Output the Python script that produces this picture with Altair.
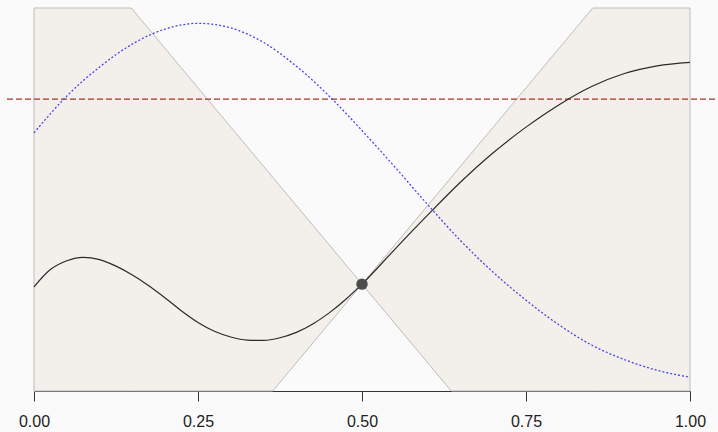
import altair as alt
import pandas as pd

# ---- data ----
black_x = [0.0, 0.025, 0.05, 0.075, 0.10, 0.125, 0.15, 0.175, 0.20, 0.225, 0.25, 0.275, 0.30,
           0.325, 0.35, 0.375, 0.40, 0.425, 0.45, 0.475, 0.50, 0.55, 0.60, 0.65, 0.70, 0.75,
           0.80, 0.85, 0.90, 0.95, 1.0]
black_y = [0.272, 0.317, 0.340, 0.349, 0.343, 0.326, 0.303, 0.275, 0.243, 0.209, 0.179, 0.156,
           0.141, 0.133, 0.132, 0.139, 0.153, 0.175, 0.204, 0.239, 0.279, 0.370, 0.459, 0.545,
           0.622, 0.689, 0.747, 0.795, 0.829, 0.849, 0.858]

blue_x = [0.0, 0.05, 0.10, 0.15, 0.20, 0.25, 0.30, 0.35, 0.40, 0.45, 0.50, 0.55, 0.60, 0.65,
          0.70, 0.75, 0.80, 0.85, 0.90, 0.95, 1.0]
blue_y = [0.674, 0.770, 0.846, 0.906, 0.945, 0.960, 0.948, 0.910, 0.848, 0.770, 0.680, 0.585,
          0.487, 0.393, 0.310, 0.237, 0.173, 0.120, 0.082, 0.054, 0.036]

ref_level = [0.762]
center_x = [0.5]
center_y = [0.279]
cone_slope = 2.05
y_lo, y_hi = 0.0, 1.0
x_ticks = [0.0, 0.25, 0.5, 0.75, 1.0]

# ---- build tables ----
black_df = pd.DataFrame({"x": black_x, "y": black_y})
blue_df = pd.DataFrame({"x": blue_x, "y": blue_y})
ref_df = pd.DataFrame({"y": ref_level})
pt_df = pd.DataFrame({"x": center_x, "y": center_y})

x0, y0, L = center_x[0], center_y[0], cone_slope
def wedge(xs, side):
    rows = []
    for x in sorted(xs):
        a = y0 + L * (x - x0)
        b = y0 - L * (x - x0)
        lo, hi = (max(y_lo, a), min(y_hi, b)) if side == "left" else (max(y_lo, b), min(y_hi, a))
        rows.append({"x": x, "lo": lo, "hi": hi, "side": side})
    return rows

left_pts = [0.0, x0 - (y_hi - y0) / L, x0 - (y0 - y_lo) / L, x0]
right_pts = [x0, x0 + (y0 - y_lo) / L, x0 + (y_hi - y0) / L, 1.0]
wedge_df = pd.DataFrame(wedge(left_pts, "left") + wedge(right_pts, "right"))

xscale = alt.Scale(domain=[0, 1], nice=False, zero=False)
yscale = alt.Scale(domain=[y_lo, y_hi], nice=False, zero=False)
xaxis = alt.Axis(values=x_ticks, format=".2f", title=None, grid=False, labelFlush=False)

areas = alt.Chart(wedge_df).mark_area(
    fill="#f3f0ec", stroke="#bdbdbd", strokeWidth=1
).encode(
    x=alt.X("x:Q", scale=xscale, axis=xaxis),
    y=alt.Y("lo:Q", scale=yscale, axis=None),
    y2="hi:Q",
    detail="side:N",
)

rule = alt.Chart(ref_df).mark_rule(
    color="#a83228", strokeDash=[6, 3], strokeWidth=1.1
).encode(
    y=alt.Y("y:Q", scale=yscale, axis=None),
    x=alt.value(-27),
    x2=alt.value(684),
)

blue = alt.Chart(blue_df).mark_line(
    color="#4646e6", strokeDash=[2, 2], strokeWidth=1.3, interpolate="monotone"
).encode(
    x=alt.X("x:Q", scale=xscale, axis=xaxis),
    y=alt.Y("y:Q", scale=yscale, axis=None),
)

black = alt.Chart(black_df).mark_line(
    color="#2a2a2a", strokeWidth=1.2, interpolate="monotone"
).encode(
    x=alt.X("x:Q", scale=xscale, axis=xaxis),
    y=alt.Y("y:Q", scale=yscale, axis=None),
)

point = alt.Chart(pt_df).mark_circle(
    color="#4d4d4d", opacity=1, size=130
).encode(
    x=alt.X("x:Q", scale=xscale, axis=xaxis),
    y=alt.Y("y:Q", scale=yscale, axis=None),
)

chart = alt.layer(areas, rule, blue, black, point).properties(
    width=656, height=383,
    autosize=alt.AutoSizeParams(type="none"),
    padding={"left": 34, "top": 8, "right": 28, "bottom": 41},
    background="#fafafa",
).configure_view(stroke=None).configure_axis(
    domainColor="#333333", tickColor="#333333", tickSize=10, tickWidth=1,
    domainWidth=1, labelFontSize=16, labelColor="#222222", labelFont="Liberation Sans",
    labelPadding=12,
)

chart.save("out.html", embed_options={"renderer": "svg", "actions": False})
